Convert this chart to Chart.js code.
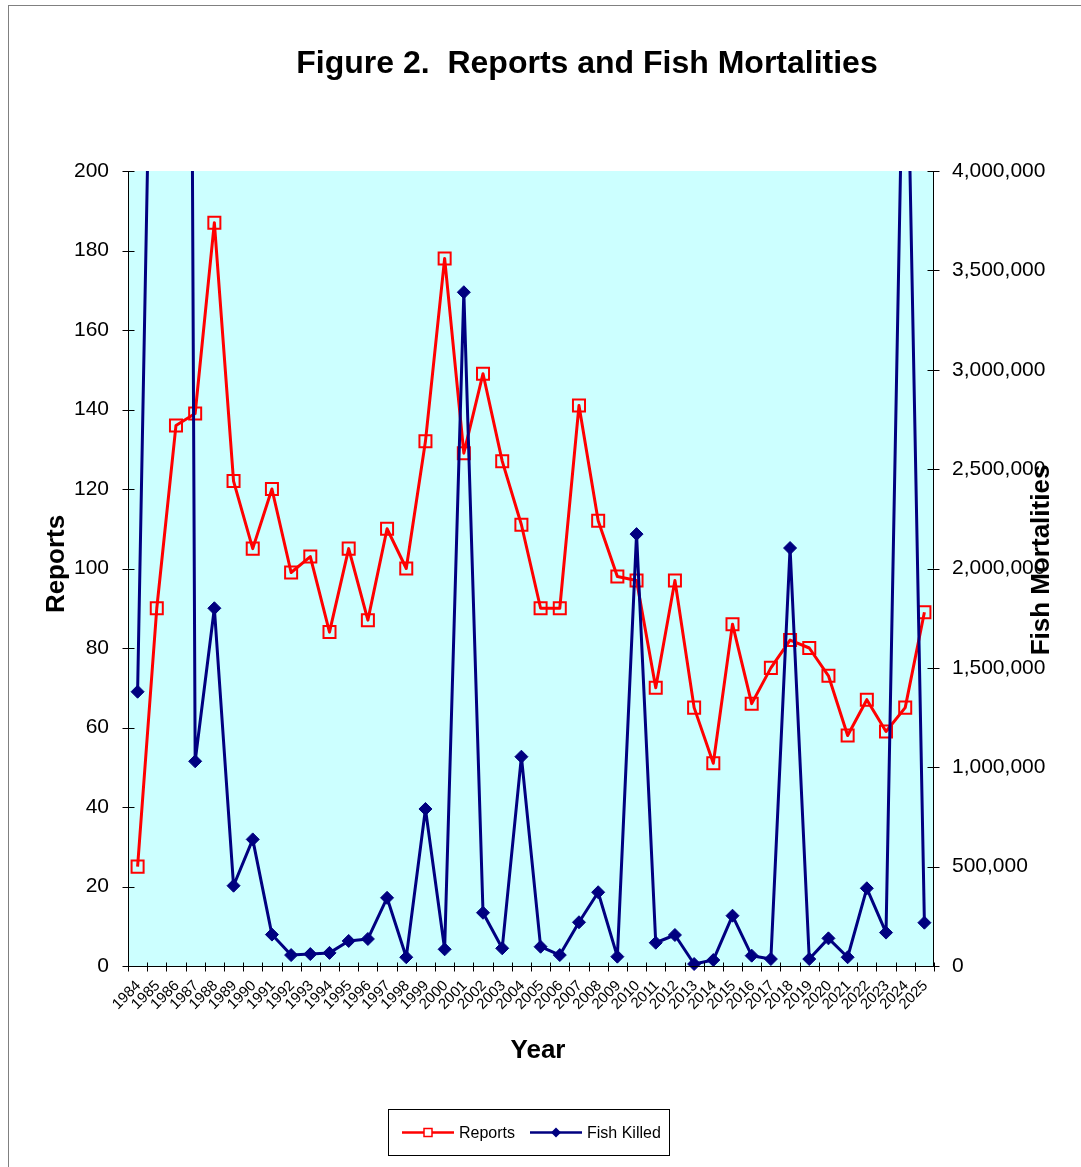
<!DOCTYPE html>
<html>
<head>
<meta charset="utf-8">
<title>Figure 2. Reports and Fish Mortalities</title>
<script src="https://cdn.jsdelivr.net/npm/chart.js@4.4.1/dist/chart.umd.min.js"></script>
<style>
  html, body { margin: 0; padding: 0; background: #ffffff; }
  canvas { display: block; }
</style>
</head>
<body>
<canvas id="chart" width="1081" height="1167"></canvas>
<script>
// Year categories
const years = ['1984','1985','1986','1987','1988','1989','1990','1991','1992','1993',
               '1994','1995','1996','1997','1998','1999','2000','2001','2002','2003',
               '2004','2005','2006','2007','2008','2009','2010','2011','2012','2013',
               '2014','2015','2016','2017','2018','2019','2020','2021','2022','2023',
               '2024','2025'];

// Number of reports per year (left axis)
const reports = [25, 90, 136, 139, 187, 122, 105, 120, 99, 103,
                 84, 105, 87, 110, 100, 132, 178, 129, 149, 127,
                 111, 90, 90, 141, 112, 98, 97, 70, 97, 65,
                 51, 86, 66, 75, 82, 80, 73, 58, 67, 59,
                 65, 89];

// Fish killed per year (right axis)
const fishKilled = [1380000, 6500000, 22000000, 1030000, 1800000, 404000, 637000, 158000, 55000, 60000,
                    66000, 126000, 136000, 343000, 44000, 790000, 84000, 3390000, 268000, 89000,
                    1053000, 97000, 55000, 220000, 371000, 47000, 2173000, 117000, 156000, 10000,
                    30000, 253000, 52000, 35000, 2103000, 35000, 139000, 44000, 391000, 168000,
                    5250000, 218000];

// Axis ranges
const reportsMax = 200, reportsStep = 20;
const fishMax = 4000000, fishStep = 500000;

const FONT = "'Liberation Sans', Arial, Helvetica, sans-serif";
const RED = '#FF0000';
const NAVY = '#000080';

Chart.defaults.font.family = FONT;
Chart.defaults.color = '#000000';

// Plot background, page frame, axes with crossing tick marks, titles and legend
const decorations = {
  id: 'decorations',
  beforeDraw(chart) {
    const ctx = chart.ctx;
    const a = chart.chartArea;
    ctx.save();
    ctx.fillStyle = '#FFFFFF';
    ctx.fillRect(0, 0, chart.width, chart.height);
    ctx.fillStyle = '#CCFFFF';
    ctx.fillRect(a.left, a.top, a.right - a.left, a.bottom - a.top);
    // page frame
    ctx.strokeStyle = '#808080';
    ctx.lineWidth = 1;
    ctx.strokeRect(8.5, 5.5, 3000, 3000);
    ctx.restore();
  },
  afterDraw(chart) {
    const ctx = chart.ctx;
    const a = chart.chartArea;
    const xs = chart.scales.x, yl = chart.scales.y, yr = chart.scales.y1;
    ctx.save();
    ctx.strokeStyle = '#000000';
    ctx.lineWidth = 1;
    ctx.beginPath();
    // left axis
    const lx = Math.round(a.left) + 0.5;
    ctx.moveTo(lx, a.top); ctx.lineTo(lx, a.bottom);
    yl.ticks.forEach(t => {
      const y = Math.round(yl.getPixelForValue(t.value)) + 0.5;
      ctx.moveTo(lx - 6, y); ctx.lineTo(lx + 6, y);
    });
    // right axis
    const rx = Math.round(a.right) - 0.5;
    ctx.moveTo(rx, a.top); ctx.lineTo(rx, a.bottom);
    yr.ticks.forEach(t => {
      const y = Math.round(yr.getPixelForValue(t.value)) + 0.5;
      ctx.moveTo(rx - 6, y); ctx.lineTo(rx + 6, y);
    });
    // bottom axis with ticks on category boundaries
    const by = Math.round(a.bottom) + 0.5;
    ctx.moveTo(a.left, by); ctx.lineTo(a.right, by);
    const n = years.length;
    const half = (xs.getPixelForValue(1) - xs.getPixelForValue(0)) / 2;
    for (let i = 0; i <= n; i++) {
      const x = Math.round(xs.getPixelForValue(Math.min(i, n - 1)) + (i < n ? -half : half)) + 0.5;
      ctx.moveTo(x, by - 4); ctx.lineTo(x, by + 5);
    }
    ctx.stroke();

    // chart title
    ctx.fillStyle = '#000000';
    ctx.textAlign = 'center';
    ctx.textBaseline = 'middle';
    ctx.font = 'bold 32px ' + FONT;
    ctx.fillText('Figure 2.  Reports and Fish Mortalities', 587, 64);

    // axis titles
    ctx.font = 'bold 26px ' + FONT;
    ctx.fillText('Year', 538, 1051);
    ctx.save();
    ctx.translate(57, 564);
    ctx.rotate(-Math.PI / 2);
    ctx.fillText('Reports', 0, 0);
    ctx.restore();
    ctx.save();
    ctx.translate(1042, 560);
    ctx.rotate(-Math.PI / 2);
    ctx.fillText('Fish Mortalities', 0, 0);
    ctx.restore();

    // legend
    const ds = chart.data.datasets;
    const lgLeft = 388.5, lgTop = 1109.5, lgW = 281, lgH = 46;
    ctx.strokeStyle = '#000000';
    ctx.lineWidth = 1;
    ctx.strokeRect(lgLeft, lgTop, lgW, lgH);
    const cy = lgTop + lgH / 2;
    const items = [
      { d: ds.find(d => d.label === 'Reports'), x0: 402 },
      { d: ds.find(d => d.label === 'Fish Killed'), x0: 530 }
    ];
    ctx.font = '16px ' + FONT;
    ctx.textAlign = 'left';
    items.forEach(it => {
      const d = it.d;
      ctx.strokeStyle = d.borderColor;
      ctx.lineWidth = 2.5;
      ctx.beginPath();
      ctx.moveTo(it.x0, cy); ctx.lineTo(it.x0 + 52, cy);
      ctx.stroke();
      const mx = it.x0 + 26;
      if (d.pointStyle === 'rect') {
        ctx.fillStyle = '#FFFFFF';
        ctx.fillRect(mx - 4, cy - 4, 8, 8);
        ctx.lineWidth = 1.5;
        ctx.strokeRect(mx - 4, cy - 4, 8, 8);
      } else {
        ctx.fillStyle = d.pointBackgroundColor;
        ctx.beginPath();
        ctx.moveTo(mx - 5, cy); ctx.lineTo(mx, cy - 5); ctx.lineTo(mx + 5, cy); ctx.lineTo(mx, cy + 5);
        ctx.closePath();
        ctx.fill();
      }
      ctx.fillStyle = '#000000';
      ctx.fillText(d.label, it.x0 + 57, cy + 1);
    });
    ctx.restore();
  }
};

new Chart(document.getElementById('chart'), {
  type: 'line',
  data: {
    labels: years,
    datasets: [
      {
        label: 'Reports',
        data: reports,
        yAxisID: 'y',
        order: 1,
        borderColor: RED,
        borderWidth: 3,
        borderJoinStyle: 'round',
        tension: 0,
        pointStyle: 'rect',
        pointRadius: 8.5,
        pointHoverRadius: 8.5,
        pointBorderWidth: 2,
        pointBorderColor: RED,
        pointBackgroundColor: 'rgba(0,0,0,0)'
      },
      {
        label: 'Fish Killed',
        data: fishKilled,
        yAxisID: 'y1',
        order: 0,
        borderColor: NAVY,
        borderWidth: 3,
        borderJoinStyle: 'round',
        tension: 0,
        pointStyle: 'rectRot',
        pointRadius: 6.5,
        pointHoverRadius: 6.5,
        pointBorderWidth: 1,
        pointBorderColor: NAVY,
        pointBackgroundColor: NAVY,
        clip: { left: 10, right: 10, top: 0, bottom: 10 }
      }
    ]
  },
  options: {
    responsive: false,
    animation: false,
    events: [],
    layout: { padding: { top: 171, left: 0, right: 0, bottom: 0 } },
    plugins: {
      legend: { display: false },
      title: { display: false },
      tooltip: { enabled: false }
    },
    scales: {
      x: {
        type: 'category',
        offset: true,
        grid: { display: false, offset: true },
        border: { display: false },
        ticks: {
          autoSkip: false,
          maxRotation: 45,
          minRotation: 45,
          padding: 3,
          labelOffset: 1,
          font: { size: 15 },
          color: '#000000'
        },
        afterFit(s) { s.height = 201; }
      },
      y: {
        position: 'left',
        min: 0,
        max: reportsMax,
        grid: { display: false },
        border: { display: false },
        ticks: { stepSize: reportsStep, padding: 11, font: { size: 21 }, color: '#000000' },
        afterFit(s) { s.width = 128; }
      },
      y1: {
        position: 'right',
        min: 0,
        max: fishMax,
        grid: { display: false },
        border: { display: false },
        ticks: {
          stepSize: fishStep,
          padding: 10,
          font: { size: 21 },
          color: '#000000',
          callback: v => Number(v).toLocaleString('en-US')
        },
        afterFit(s) { s.width = 147; }
      }
    }
  },
  plugins: [decorations]
});
</script>
</body>
</html>
